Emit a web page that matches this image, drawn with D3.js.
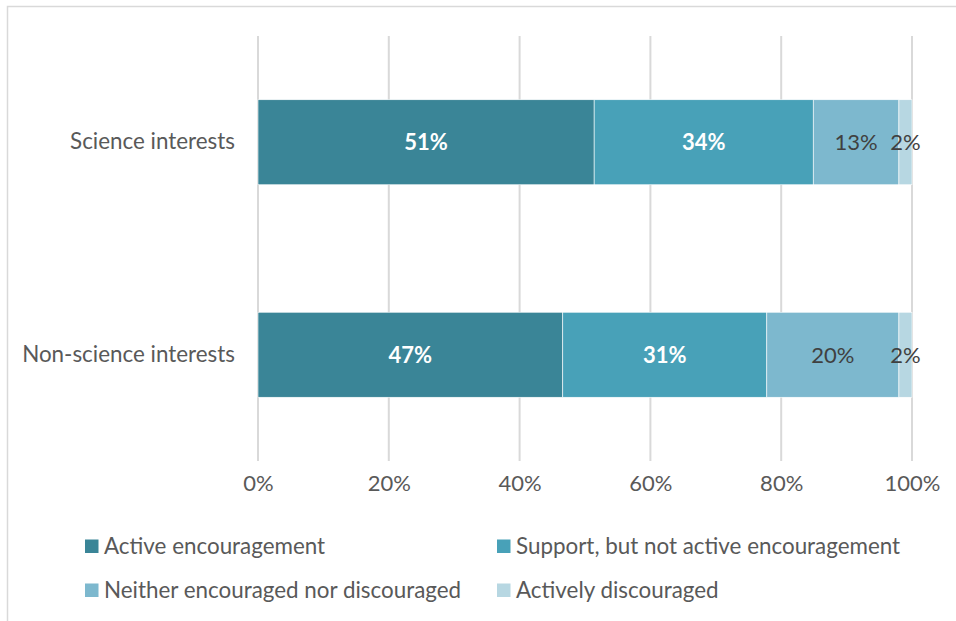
<!DOCTYPE html>
<html>
<head>
<meta charset="utf-8">
<script src="https://cdn.jsdelivr.net/npm/d3@7"></script>
<style>
  html, body { margin: 0; padding: 0; background: #fff; }
  svg { display: block; }
  text { font-family: Lato, "Open Sans", sans-serif; }
</style>
</head>
<body>
<svg id="chart" width="956" height="621"></svg>
<script>
// Responses by interest type (percent of respondents)
const categories = ["Science interests", "Non-science interests"];
const seriesNames = [
  "Active encouragement",
  "Support, but not active encouragement",
  "Neither encouraged nor discouraged",
  "Actively discouraged"
];
const activeEncouragement = [51.4, 46.6];
const supportNotActive = [33.5, 31.2];
const neitherEncouraged = [13.1, 20.2];
const activelyDiscouraged = [2.0, 2.0];
const xTicks = [0, 20, 40, 60, 80, 100];

const seriesValues = [activeEncouragement, supportNotActive, neitherEncouraged, activelyDiscouraged];
const colors = ["#3a8597", "#48a1b8", "#7db8ce", "#b7d7e2"];
const labelStyles = [
  { fill: "#ffffff", weight: 700 },
  { fill: "#ffffff", weight: 700 },
  { fill: "#404040", weight: 400 },
  { fill: "#404040", weight: 400 }
];

const svg = d3.select("#chart");

// outer frame
svg.append("rect")
  .attr("x", 7.5).attr("y", 6.5)
  .attr("width", 1000).attr("height", 700)
  .attr("fill", "none").attr("stroke", "#d9d9d9").attr("stroke-width", 1.5);

const x = d3.scaleLinear().domain([0, 100]).range([258, 912]);
const y = d3.scaleBand().domain(categories).range([36, 461])
  .paddingInner(0.6).paddingOuter(0.3);

// vertical gridlines
svg.append("g").selectAll("line").data(xTicks).join("line")
  .attr("x1", d => x(d)).attr("x2", d => x(d))
  .attr("y1", 36).attr("y2", 461)
  .attr("stroke", "#d9d9d9").attr("stroke-width", 2);

// x axis tick labels
const xAxis = d3.axisBottom(x).tickValues(xTicks).tickFormat(d => d + "%").tickSize(0).tickPadding(0);
const gx = svg.append("g").attr("transform", "translate(0,475)").call(xAxis);
gx.select(".domain").remove();
gx.selectAll("text")
  .attr("font-size", 22).attr("fill", "#595959")
  .attr("font-family", "Lato, sans-serif")
  .attr("dy", "0.71em");

// category labels
const yAxis = d3.axisLeft(y).tickSize(0).tickPadding(0);
const gy = svg.append("g").attr("transform", "translate(235,0)").call(yAxis);
gy.select(".domain").remove();
gy.selectAll("text")
  .attr("font-size", 22.4).attr("fill", "#595959")
  .attr("font-family", "Lato, sans-serif");

// stacked segments
const rows = categories.map((c, i) => {
  const r = { category: c };
  seriesNames.forEach((s, k) => { r[s] = seriesValues[k][i]; });
  return r;
});
const stacked = d3.stack().keys(seriesNames)(rows);

const layers = svg.append("g").selectAll("g").data(stacked).join("g")
  .attr("fill", (d, k) => colors[k]);

layers.selectAll("rect").data(d => d).join("rect")
  .attr("x", d => x(d[0]))
  .attr("y", d => y(d.data.category))
  .attr("width", d => x(d[1]) - x(d[0]))
  .attr("height", y.bandwidth())
  .attr("stroke", "#ffffff").attr("stroke-width", 0.6);

// value labels
const labels = svg.append("g");
stacked.forEach((layer, k) => {
  labels.selectAll(null).data(layer).join("text")
    .attr("x", d => (x(d[0]) + x(d[1])) / 2)
    .attr("y", d => y(d.data.category) + y.bandwidth() / 2)
    .attr("dy", "0.36em")
    .attr("text-anchor", "middle")
    .attr("font-size", 22)
    .attr("font-weight", labelStyles[k].weight)
    .attr("fill", labelStyles[k].fill)
    .text(d => Math.round(d[1] - d[0]) + "%");
});

// legend
const legendPos = [
  { x: 85, y: 546 }, { x: 497, y: 546 },
  { x: 85, y: 590 }, { x: 497, y: 590 }
];
const legend = svg.append("g").selectAll("g").data(seriesNames).join("g")
  .attr("transform", (d, k) => `translate(${legendPos[k].x},${legendPos[k].y})`);
legend.append("rect")
  .attr("x", 0).attr("y", -6.5).attr("width", 13.5).attr("height", 13.5)
  .attr("fill", (d, k) => colors[k]);
legend.append("text")
  .attr("x", 19).attr("dy", "0.36em")
  .attr("font-size", 22.4).attr("fill", "#595959")
  .text(d => d);
</script>
</body>
</html>
